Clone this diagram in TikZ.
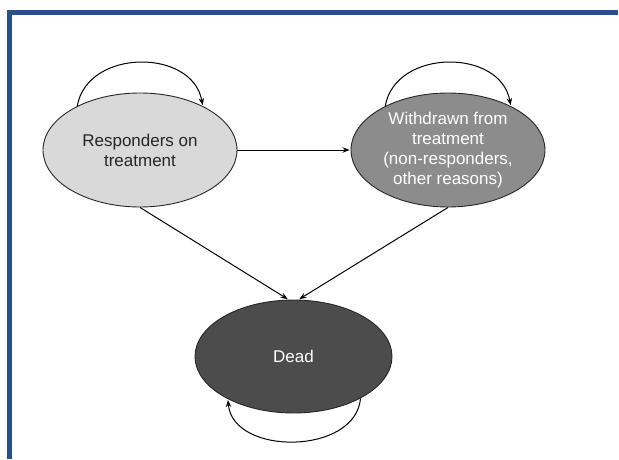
\documentclass[tikz,border=0pt]{standalone}
\usepackage{fontspec}
\setmainfont{Liberation Sans}
\usepackage{tikz}
\usetikzlibrary{shapes,arrows,arrows.meta,calc}
\definecolor{framecolor}{RGB}{40,80,135}
\tikzset{
   state node/.style={ellipse,draw=black!85,line width=0.9pt,inner sep=0pt,align=center,
                      minimum width=194pt,minimum height=114pt,font=\fontsize{17}{20}\selectfont},
   responder node/.style={state node,fill=black!15,text=black!85},
   withdrawn node/.style={state node,fill=black!45,text=white},
   dead node/.style={state node,fill=black!70,minimum width=197pt,minimum height=113pt,text=white}
}

\begin{document}
\begin{tikzpicture}[x=1pt,y=1pt,
                    ->,>={Stealth[length=7pt,width=5.5pt]},shorten >=1pt,line width=1pt]
\useasboundingbox (0,0) rectangle (619,459);
\draw[-,line width=5pt,framecolor] (9.5,0) -- (9.5,446.5) -- (619,446.5);
\node[responder node] (resp) at (140,309)     {Responders on\\treatment};
\node[withdrawn node] (wdr)  at (448,309)     {Withdrawn from\\treatment\\(non-responders,\\other reasons)};
\node[dead node]      (dead) at (293.5,102.5) {Dead};
%
\path
  (resp) edge (wdr)
  (resp.south) edge (dead.95)
  (wdr.south) edge (dead.85)
  (resp.145) edge[out=80,in=100,looseness=1.2] (resp.35)
  (wdr.145) edge[out=80,in=100,looseness=1.2] (wdr.35)
  (dead.328) edge[out=-95,in=-85,looseness=1.1] (dead.213)
  ;
\end{tikzpicture}
\end{document}
